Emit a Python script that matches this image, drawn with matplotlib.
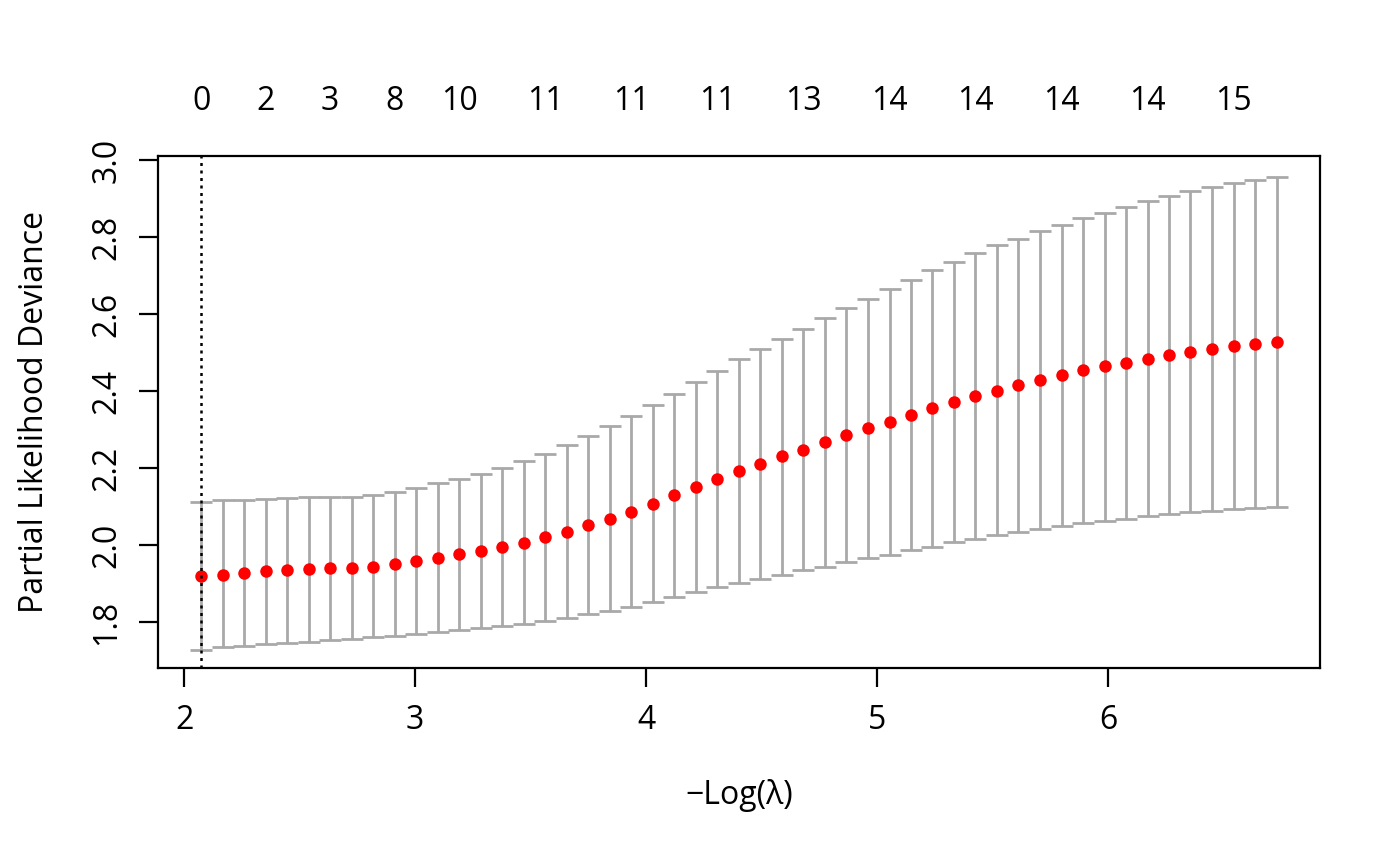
import numpy as np
import matplotlib
matplotlib.use('Agg')
import matplotlib.pyplot as plt

plt.rcParams['font.family'] = ['Open Sans', 'DejaVu Sans']

# -log(lambda) for each lambda on the path
neg_log_lambda = [2.074, 2.167, 2.260, 2.353, 2.446, 2.539, 2.632, 2.726, 2.819, 2.912,
                  3.005, 3.098, 3.191, 3.284, 3.377, 3.470, 3.564, 3.657, 3.750, 3.843,
                  3.936, 4.029, 4.122, 4.215, 4.309, 4.402, 4.495, 4.588, 4.681, 4.774,
                  4.867, 4.960, 5.054, 5.147, 5.240, 5.333, 5.426, 5.519, 5.612, 5.705,
                  5.799, 5.892, 5.985, 6.078, 6.171, 6.264, 6.357, 6.450, 6.544, 6.637,
                  6.730]

cvm = [1.919, 1.923, 1.928, 1.932, 1.935, 1.938, 1.940, 1.941, 1.944, 1.950,
       1.958, 1.967, 1.976, 1.985, 1.994, 2.006, 2.020, 2.034, 2.051, 2.068,
       2.086, 2.107, 2.129, 2.151, 2.171, 2.191, 2.211, 2.230, 2.247, 2.267,
       2.285, 2.303, 2.320, 2.338, 2.355, 2.372, 2.388, 2.401, 2.415, 2.428,
       2.441, 2.454, 2.464, 2.474, 2.484, 2.493, 2.502, 2.510, 2.517, 2.521,
       2.528]

cvup = [2.112, 2.116, 2.118, 2.120, 2.122, 2.124, 2.125, 2.125, 2.129, 2.137,
        2.149, 2.160, 2.172, 2.185, 2.199, 2.218, 2.237, 2.259, 2.283, 2.308,
        2.334, 2.363, 2.393, 2.424, 2.453, 2.482, 2.509, 2.536, 2.562, 2.589,
        2.615, 2.640, 2.664, 2.689, 2.713, 2.736, 2.758, 2.778, 2.796, 2.815,
        2.832, 2.848, 2.863, 2.878, 2.893, 2.906, 2.919, 2.929, 2.939, 2.949,
        2.957]

cvlo = [1.727, 1.734, 1.738, 1.742, 1.745, 1.749, 1.753, 1.756, 1.760, 1.764,
        1.769, 1.774, 1.780, 1.784, 1.789, 1.796, 1.803, 1.811, 1.820, 1.829,
        1.838, 1.852, 1.864, 1.878, 1.890, 1.902, 1.913, 1.923, 1.934, 1.944,
        1.956, 1.965, 1.975, 1.986, 1.996, 2.008, 2.016, 2.025, 2.034, 2.042,
        2.049, 2.057, 2.063, 2.068, 2.075, 2.080, 2.085, 2.089, 2.093, 2.095,
        2.098]

# number of nonzero coefficients shown on top axis
nz_index = [0, 3, 6, 9, 12, 16, 20, 24, 28, 32, 36, 40, 44, 48]
nz_labels = ['0', '2', '3', '8', '10', '11', '11', '11', '13', '14', '14', '14', '14', '15']

lambda_min = neg_log_lambda[0]

x = np.array(neg_log_lambda)
m = np.array(cvm)
up = np.array(cvup)
lo = np.array(cvlo)

fs = 23

fig = plt.figure(figsize=(14, 8.65), dpi=100)
ax = fig.add_axes([0.1129, 0.2277, 0.83, 0.592])

ax.errorbar(x, m, yerr=[m - lo, up - m], fmt='none', ecolor='darkgrey',
            elinewidth=2, capsize=8, capthick=2, zorder=2)
ax.plot(x, m, 'o', color='red', markersize=9, markeredgewidth=0, zorder=3)
ax.axvline(lambda_min, color='black', linestyle=(0, (1.2, 1.8)), linewidth=1.8, zorder=4)

ax.set_xlim(1.887, 6.918)
ax.set_ylim(1.6805, 3.0104)
ax.set_xticks([2, 3, 4, 5, 6])
ax.set_yticks([1.8, 2.0, 2.2, 2.4, 2.6, 2.8, 3.0])
ax.set_yticklabels(['1.8', '2.0', '2.2', '2.4', '2.6', '2.8', '3.0'], rotation=90, va='center')
ax.tick_params(axis='x', labelsize=fs, length=14, width=1.6, pad=12)
ax.tick_params(axis='y', labelsize=fs, length=14, width=1.6, pad=11)
for s in ax.spines.values():
    s.set_linewidth(1.6)

ax.set_xlabel('\u2212Log(\u03bb)', fontsize=fs, labelpad=30)
ax.set_ylabel('Partial Likelihood Deviance', fontsize=fs, labelpad=28)

top = ax.secondary_xaxis('top')
top.set_xticks([x[i] for i in nz_index])
top.set_xticklabels(nz_labels)
top.tick_params(length=0, labelsize=fs, pad=27)
top.spines['top'].set_visible(False)

fig.savefig('out.png', dpi=100)
